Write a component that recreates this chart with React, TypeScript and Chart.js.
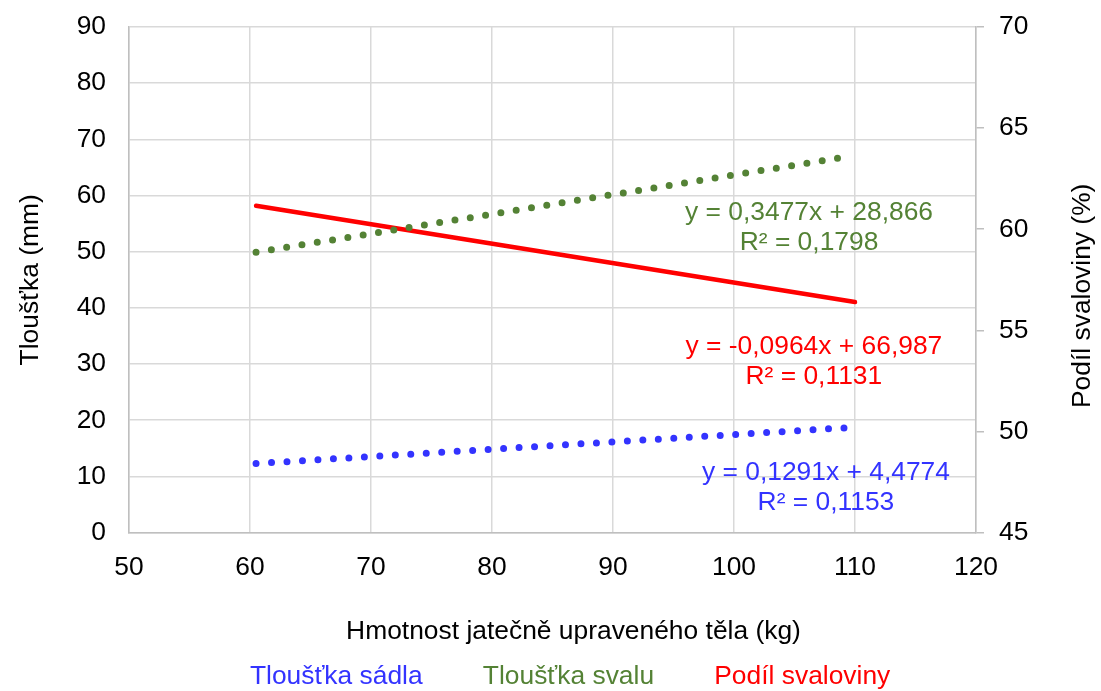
import { useEffect, useRef } from "react";
import { Chart, registerables } from "chart.js";

Chart.register(...registerables);

// ---- data ----
const seriesNames = ["Tloušťka sádla", "Tloušťka svalu", "Podíl svaloviny"];
const seriesColors = ["#3333FF", "#548235", "#FF0000"];

// trend lines (end points)
const fatX = [60.5, 109.6];
const fatY = [12.3, 18.7];
const muscleX = [60.5, 109.3];
const muscleY = [49.9, 66.9];
const shareX = [60.5, 110];
const shareY = [61.16, 56.4];

const equations = ["y = 0,1291x + 4,4774", "y = 0,3477x + 28,866", "y = -0,0964x + 66,987"];
const rSquared = ["R² = 0,1153", "R² = 0,1798", "R² = 0,1131"];

const xTitle = "Hmotnost jatečně upraveného těla (kg)";
const yLeftTitle = "Tloušťka (mm)";
const yRightTitle = "Podíl svaloviny (%)";

const xRange = [50, 120];
const yLeftRange = [0, 90];
const yRightRange = [45, 70];

const FONT = "'Liberation Sans', Arial, sans-serif";
const FS = 26.4;

const toPts = (xs: number[], ys: number[]) => xs.map((x, i) => ({ x, y: ys[i] }));

// label anchors (data units) for the trend equations
const eqAnchors = [
  { x: 107.6, y: 10.67, axis: "y" },
  { x: 106.2, y: 56.9, axis: "y" },
  { x: 106.6, y: 54.19, axis: "y2" },
];

const textPlugin = {
  id: "texts",
  afterDatasetsDraw(chart: any) {
    const { ctx, chartArea, scales } = chart;
    ctx.save();
    ctx.font = `${FS}px ${FONT}`;
    ctx.textAlign = "center";
    ctx.textBaseline = "middle";
    eqAnchors.forEach((a, i) => {
      const px = scales.x.getPixelForValue(a.x);
      const py = scales[a.axis].getPixelForValue(a.y);
      ctx.fillStyle = seriesColors[i];
      ctx.fillText(equations[i], px, py);
      ctx.fillText(rSquared[i], px, py + 30);
    });
    // axis titles
    ctx.fillStyle = "#000";
    const cx = (chartArea.left + chartArea.right) / 2;
    const cy = (chartArea.top + chartArea.bottom) / 2;
    ctx.fillText(xTitle, cx + 21, chartArea.bottom + 99);
    ctx.save();
    ctx.translate(31, cy);
    ctx.rotate(-Math.PI / 2);
    ctx.fillText(yLeftTitle, 0, 0);
    ctx.restore();
    ctx.save();
    ctx.translate(chart.width - 18, cy + 16);
    ctx.rotate(-Math.PI / 2);
    ctx.fillText(yRightTitle, 0, 0);
    ctx.restore();
    ctx.restore();
  },
};

export default function App() {
  const ref = useRef<HTMLCanvasElement>(null);
  useEffect(() => {
    if (!ref.current) return;
    Chart.defaults.font.family = FONT;
    const chart = new Chart(ref.current, {
      type: "line",
      data: {
        datasets: [
          {
            label: seriesNames[0],
            data: toPts(fatX, fatY),
            borderColor: seriesColors[0],
            borderWidth: 7,
            borderDash: [0, 15.5],
            borderCapStyle: "round",
            pointRadius: 0,
            yAxisID: "y",
          },
          {
            label: seriesNames[1],
            data: toPts(muscleX, muscleY),
            borderColor: seriesColors[1],
            borderWidth: 7,
            borderDash: [0, 15.5],
            borderCapStyle: "round",
            pointRadius: 0,
            yAxisID: "y",
          },
          {
            label: seriesNames[2],
            data: toPts(shareX, shareY),
            borderColor: seriesColors[2],
            borderWidth: 4.5,
            borderCapStyle: "round",
            pointRadius: 0,
            yAxisID: "y2",
          },
        ],
      },
      options: {
        animation: false,
        responsive: false,
        layout: { padding: { top: 27, left: 0, right: 20, bottom: -9 } },
        plugins: {
          tooltip: { enabled: false },
          legend: {
            position: "bottom",
            labels: {
              font: { size: FS, family: FONT },
              boxWidth: 46,
              boxHeight: 20,
              padding: 1,
              generateLabels: () =>
                seriesNames.map((n, i) => ({
                  text: n,
                  fontColor: seriesColors[i],
                  fillStyle: "rgba(0,0,0,0)",
                  strokeStyle: "rgba(0,0,0,0)",
                  lineWidth: 0,
                  hidden: false,
                  datasetIndex: i,
                })),
            },
          },
        },
        scales: {
          x: {
            type: "linear",
            min: xRange[0],
            max: xRange[1],
            ticks: { stepSize: 10, color: "#000", font: { size: FS }, padding: 19 },
            grid: { color: "#d9d9d9", lineWidth: 1.5, drawTicks: false },
            border: { color: "#bfbfbf", width: 1.5 },
            afterFit: (s: any) => {
              s.height = 130;
            },
          },
          y: {
            type: "linear",
            position: "left",
            min: yLeftRange[0],
            max: yLeftRange[1],
            ticks: { stepSize: 10, color: "#000", font: { size: FS }, padding: 23 },
            grid: { color: "#d9d9d9", lineWidth: 1.5, drawTicks: false },
            border: { color: "#bfbfbf", width: 1.5 },
            afterFit: (s: any) => {
              s.width = 129;
              s.paddingTop = 0;
              s.paddingBottom = 0;
            },
          },
          y2: {
            type: "linear",
            position: "right",
            min: yRightRange[0],
            max: yRightRange[1],
            ticks: { stepSize: 5, color: "#000", font: { size: FS }, padding: 15 },
            grid: { color: "#bfbfbf", lineWidth: 1.5, drawOnChartArea: false, tickLength: 8 },
            border: { color: "#bfbfbf", width: 1.5 },
            afterFit: (s: any) => {
              s.width = 105;
              s.paddingTop = 0;
              s.paddingBottom = 0;
            },
          },
        },
      },
      plugins: [textPlugin],
    } as any);
    return () => chart.destroy();
  }, []);
  return (
    <div style={{ position: "fixed", left: 0, top: 0, width: 1101, height: 691, background: "#fff" }}>
      <canvas ref={ref} width={1101} height={691} style={{ display: "block" }} />
    </div>
  );
}
